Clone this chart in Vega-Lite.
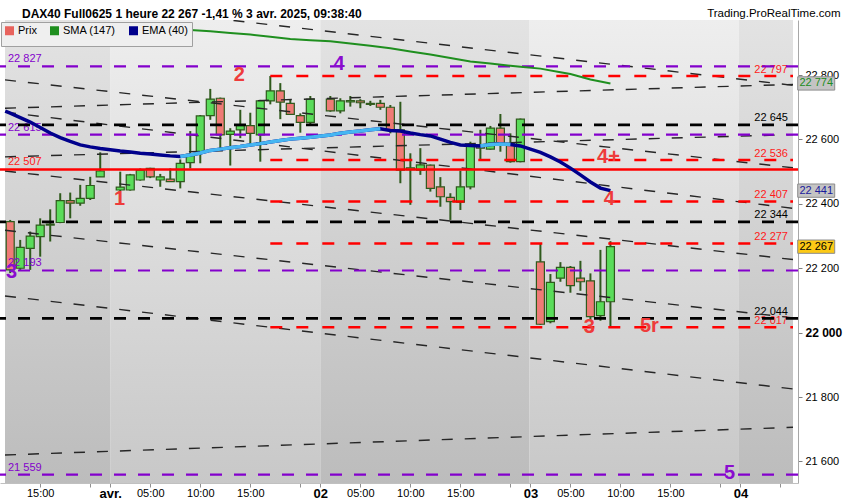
{
  "$schema": "https://vega.github.io/schema/vega-lite/v6.json",
  "width": 798,
  "height": 463,
  "autosize": {"type": "none"},
  "padding": {"left": 0, "top": 20, "right": 52, "bottom": 17},
  "background": "white",
  "title": {
    "text": "DAX40 Full0625 1 heure 22 267 -1,41 % 3 avr. 2025, 09:38:40",
    "anchor": "start", "frame": "group", "offset": -22.5, "dx": 22, "baseline": "alphabetic",
    "font": "Liberation Sans", "fontSize": 12, "fontWeight": "bold", "color": "black"
  },
  "config": {"view": {"stroke": null}, "font": "Liberation Sans"},
  "datasets": {
    "jours": [
      {"d0": -10.52, "d1": 0, "ton": "sombre"},
      {"d0": 0, "d1": 21, "ton": "clair"},
      {"d0": 21, "d1": 41.9, "ton": "sombre"},
      {"d0": 41.9, "d1": 62.85, "ton": "clair"},
      {"d0": 62.85, "d1": 68.25, "ton": "sombre"}
    ],
    "bougies": [
      {"i": -10, "o": 22345, "h": 22350, "l": 22185, "c": 22195},
      {"i": -9, "o": 22200, "h": 22288, "l": 22195, "c": 22265},
      {"i": -8, "o": 22262, "h": 22314, "l": 22195, "c": 22300},
      {"i": -7, "o": 22298, "h": 22355, "l": 22236, "c": 22334},
      {"i": -6, "o": 22334, "h": 22383, "l": 22283, "c": 22337},
      {"i": -5, "o": 22342, "h": 22433, "l": 22340, "c": 22410},
      {"i": -4, "o": 22410, "h": 22435, "l": 22355, "c": 22402},
      {"i": -3, "o": 22402, "h": 22459, "l": 22394, "c": 22417},
      {"i": -2, "o": 22417, "h": 22484, "l": 22412, "c": 22457},
      {"i": -1, "o": 22484, "h": 22560, "l": 22484, "c": 22502},
      {"i": 1, "o": 22443, "h": 22500, "l": 22397, "c": 22452},
      {"i": 2, "o": 22443, "h": 22493, "l": 22441, "c": 22490},
      {"i": 3, "o": 22474, "h": 22510, "l": 22472, "c": 22505},
      {"i": 4, "o": 22510, "h": 22512, "l": 22480, "c": 22484},
      {"i": 5, "o": 22474, "h": 22493, "l": 22453, "c": 22484},
      {"i": 6, "o": 22477, "h": 22510, "l": 22469, "c": 22469},
      {"i": 7, "o": 22469, "h": 22538, "l": 22448, "c": 22526},
      {"i": 8, "o": 22528, "h": 22626, "l": 22510, "c": 22554},
      {"i": 9, "o": 22562, "h": 22676, "l": 22526, "c": 22673},
      {"i": 10, "o": 22674, "h": 22757, "l": 22661, "c": 22725},
      {"i": 11, "o": 22728, "h": 22730, "l": 22568, "c": 22614},
      {"i": 12, "o": 22616, "h": 22635, "l": 22519, "c": 22626},
      {"i": 13, "o": 22630, "h": 22692, "l": 22604, "c": 22643},
      {"i": 14, "o": 22643, "h": 22683, "l": 22578, "c": 22619},
      {"i": 15, "o": 22614, "h": 22723, "l": 22531, "c": 22720},
      {"i": 16, "o": 22720, "h": 22797, "l": 22709, "c": 22751},
      {"i": 17, "o": 22751, "h": 22775, "l": 22663, "c": 22716},
      {"i": 18, "o": 22712, "h": 22723, "l": 22676, "c": 22678},
      {"i": 19, "o": 22674, "h": 22681, "l": 22621, "c": 22653},
      {"i": 20, "o": 22653, "h": 22735, "l": 22645, "c": 22725},
      {"i": 22, "o": 22725, "h": 22735, "l": 22686, "c": 22689},
      {"i": 23, "o": 22689, "h": 22728, "l": 22681, "c": 22720},
      {"i": 24, "o": 22717, "h": 22735, "l": 22702, "c": 22721},
      {"i": 25, "o": 22720, "h": 22725, "l": 22697, "c": 22714},
      {"i": 26, "o": 22712, "h": 22720, "l": 22704, "c": 22709},
      {"i": 27, "o": 22712, "h": 22723, "l": 22692, "c": 22700},
      {"i": 28, "o": 22700, "h": 22707, "l": 22619, "c": 22630},
      {"i": 29, "o": 22630, "h": 22717, "l": 22464, "c": 22505},
      {"i": 30, "o": 22506, "h": 22557, "l": 22397, "c": 22512},
      {"i": 31, "o": 22505, "h": 22573, "l": 22490, "c": 22521},
      {"i": 32, "o": 22520, "h": 22522, "l": 22438, "c": 22448},
      {"i": 33, "o": 22453, "h": 22483, "l": 22391, "c": 22422},
      {"i": 34, "o": 22420, "h": 22433, "l": 22350, "c": 22407},
      {"i": 35, "o": 22405, "h": 22503, "l": 22381, "c": 22453},
      {"i": 36, "o": 22453, "h": 22593, "l": 22445, "c": 22580},
      {"i": 37, "o": 22583, "h": 22630, "l": 22536, "c": 22573},
      {"i": 38, "o": 22570, "h": 22642, "l": 22568, "c": 22635},
      {"i": 39, "o": 22635, "h": 22679, "l": 22562, "c": 22588},
      {"i": 40, "o": 22588, "h": 22619, "l": 22528, "c": 22531},
      {"i": 41, "o": 22531, "h": 22665, "l": 22529, "c": 22663},
      {"i": 43, "o": 22220, "h": 22277, "l": 22024, "c": 22026},
      {"i": 44, "o": 22034, "h": 22182, "l": 22029, "c": 22156},
      {"i": 45, "o": 22169, "h": 22219, "l": 22158, "c": 22203},
      {"i": 46, "o": 22203, "h": 22207, "l": 22124, "c": 22146},
      {"i": 47, "o": 22169, "h": 22223, "l": 22130, "c": 22158},
      {"i": 48, "o": 22161, "h": 22184, "l": 22039, "c": 22050},
      {"i": 49, "o": 22053, "h": 22257, "l": 22037, "c": 22096},
      {"i": 50, "o": 22096, "h": 22284, "l": 22017, "c": 22267}
    ],
    "sma": [
      {"i": 7.5, "v": 22941}, {"i": 8, "v": 22940}, {"i": 10, "v": 22936}, {"i": 12, "v": 22931},
      {"i": 14, "v": 22926}, {"i": 16, "v": 22919}, {"i": 18, "v": 22912}, {"i": 20, "v": 22908},
      {"i": 22, "v": 22905}, {"i": 24, "v": 22898}, {"i": 26, "v": 22891}, {"i": 28, "v": 22883},
      {"i": 30, "v": 22873}, {"i": 32, "v": 22864}, {"i": 34, "v": 22853}, {"i": 36, "v": 22842},
      {"i": 38, "v": 22836}, {"i": 40, "v": 22829}, {"i": 41, "v": 22826}, {"i": 43, "v": 22820},
      {"i": 45, "v": 22809}, {"i": 46, "v": 22803}, {"i": 47, "v": 22795}, {"i": 48, "v": 22786},
      {"i": 49, "v": 22780}, {"i": 50, "v": 22774}
    ],
    "ema": [
      {"i": -10.5, "v": 22688, "hausse": 0}, {"i": -10, "v": 22682, "hausse": 0},
      {"i": -9, "v": 22668, "hausse": 0}, {"i": -8, "v": 22654, "hausse": 0},
      {"i": -7, "v": 22637, "hausse": 0}, {"i": -6, "v": 22620, "hausse": 0},
      {"i": -5, "v": 22606, "hausse": 0}, {"i": -4, "v": 22594, "hausse": 0},
      {"i": -3, "v": 22583, "hausse": 0}, {"i": -2, "v": 22577, "hausse": 0},
      {"i": -1, "v": 22572, "hausse": 0}, {"i": 1, "v": 22564, "hausse": 0},
      {"i": 2, "v": 22561, "hausse": 0}, {"i": 3, "v": 22557, "hausse": 0},
      {"i": 4, "v": 22555, "hausse": 0}, {"i": 5, "v": 22552, "hausse": 0},
      {"i": 6, "v": 22549, "hausse": 0}, {"i": 7, "v": 22547, "hausse": 1},
      {"i": 8, "v": 22552, "hausse": 1}, {"i": 9, "v": 22558, "hausse": 1},
      {"i": 10, "v": 22566, "hausse": 1}, {"i": 11, "v": 22570, "hausse": 1},
      {"i": 12, "v": 22574, "hausse": 1}, {"i": 13, "v": 22578, "hausse": 1},
      {"i": 14, "v": 22583, "hausse": 1}, {"i": 15, "v": 22587, "hausse": 1},
      {"i": 16, "v": 22592, "hausse": 1}, {"i": 17, "v": 22597, "hausse": 1},
      {"i": 18, "v": 22601, "hausse": 1}, {"i": 19, "v": 22604, "hausse": 1},
      {"i": 20, "v": 22607, "hausse": 1}, {"i": 22, "v": 22614, "hausse": 1},
      {"i": 23, "v": 22619, "hausse": 1}, {"i": 24, "v": 22623, "hausse": 1},
      {"i": 25, "v": 22626, "hausse": 1}, {"i": 26, "v": 22630, "hausse": 1},
      {"i": 27, "v": 22633, "hausse": 1}, {"i": 28, "v": 22628, "hausse": 0},
      {"i": 29, "v": 22626, "hausse": 0}, {"i": 30, "v": 22620, "hausse": 0},
      {"i": 31, "v": 22615, "hausse": 0}, {"i": 32, "v": 22611, "hausse": 0},
      {"i": 33, "v": 22601, "hausse": 0}, {"i": 34, "v": 22591, "hausse": 0},
      {"i": 35, "v": 22583, "hausse": 0}, {"i": 36, "v": 22581, "hausse": 0},
      {"i": 37, "v": 22580, "hausse": 2}, {"i": 38, "v": 22584, "hausse": 2},
      {"i": 39, "v": 22586, "hausse": 2}, {"i": 40, "v": 22584, "hausse": 2},
      {"i": 41, "v": 22580, "hausse": 0}, {"i": 43, "v": 22560, "hausse": 0},
      {"i": 44, "v": 22546, "hausse": 0}, {"i": 45, "v": 22530, "hausse": 0},
      {"i": 46, "v": 22511, "hausse": 0}, {"i": 47, "v": 22490, "hausse": 0},
      {"i": 48, "v": 22468, "hausse": 0}, {"i": 49, "v": 22449, "hausse": 0},
      {"i": 50, "v": 22441, "hausse": 0}
    ],
    "obliques": [
      {"id": "A", "i": -10.52, "p": 23052}, {"id": "A", "i": 68.25, "p": 22768},
      {"id": "B", "i": -10.52, "p": 22785}, {"id": "B", "i": 68.25, "p": 22512},
      {"id": "C", "i": -10.52, "p": 22697}, {"id": "C", "i": 68.25, "p": 22771},
      {"id": "K", "i": -10.52, "p": 22685}, {"id": "K", "i": 68.25, "p": 22386},
      {"id": "E", "i": -10.52, "p": 22546}, {"id": "E", "i": 68.25, "p": 22615},
      {"id": "F", "i": -10.52, "p": 22502}, {"id": "F", "i": 68.25, "p": 22227},
      {"id": "G", "i": -10.52, "p": 22318}, {"id": "G", "i": 68.25, "p": 22046},
      {"id": "H", "i": -10.52, "p": 22114}, {"id": "H", "i": 68.25, "p": 21825},
      {"id": "I", "i": -10.52, "p": 21620}, {"id": "I", "i": 68.25, "p": 21706}
    ],
    "niveaux": [
      {"p": 22827, "type": "violet", "etiq": "22 827", "cote": "g"},
      {"p": 22797, "type": "rouge", "debut": 16, "etiq": "22 797", "cote": "d"},
      {"p": 22645, "type": "noir", "etiq": "22 645", "cote": "d"},
      {"p": 22615, "type": "violet", "etiq": "22 615", "cote": "g"},
      {"p": 22536, "type": "rouge", "debut": 16, "etiq": "22 536", "cote": "d"},
      {"p": 22507, "type": "rouge plein", "etiq": "22 507", "cote": "g"},
      {"p": 22407, "type": "rouge", "debut": 16, "etiq": "22 407", "cote": "d"},
      {"p": 22344, "type": "noir", "etiq": "22 344", "cote": "d"},
      {"p": 22277, "type": "rouge", "debut": 16, "etiq": "22 277", "cote": "d"},
      {"p": 22193, "type": "violet", "etiq": "22 193", "cote": "g"},
      {"p": 22044, "type": "noir", "etiq": "22 044", "cote": "d"},
      {"p": 22017, "type": "rouge", "debut": 16, "etiq": "22 017", "cote": "d"},
      {"p": 21559, "type": "violet", "etiq": "21 559", "cote": "g"}
    ],
    "vagues": [
      {"t": "1", "i": 0.93, "p": 22415, "coul": "rouge"},
      {"t": "2", "i": 12.9, "p": 22799, "coul": "rouge"},
      {"t": "4", "i": 22.87, "p": 22833, "coul": "violet"},
      {"t": "4+", "i": 49.8, "p": 22544, "coul": "rouge"},
      {"t": "4", "i": 49.9, "p": 22415, "coul": "rouge"},
      {"t": "3", "i": 47.9, "p": 22019, "coul": "rouge"},
      {"t": "5r", "i": 53.9, "p": 22021, "coul": "rouge"},
      {"t": "3", "i": -9.86, "p": 22189, "coul": "violet"},
      {"t": "5", "i": 61.9, "p": 21565, "coul": "violet"}
    ],
    "etiquettes": [
      {"p": 22774, "etiq": "22 774", "serie": "SMA"},
      {"p": 22441, "etiq": "22 441", "serie": "EMA"},
      {"p": 22267, "etiq": "22 267", "serie": "Prix"}
    ]
  },
  "layer": [
    {
      "data": {"name": "jours"},
      "transform": [{"filter": "datum.ton == 'clair'"}],
      "mark": {"type": "rect", "fill": {"gradient": "linear", "x1": 0, "y1": 0, "x2": 0, "y2": 1, "stops": [{"offset": 0, "color": "#eeeeee"}, {"offset": 1, "color": "#c8c8c8"}]}},
      "encoding": {
        "x": {
          "field": "d0", "type": "quantitative",
          "scale": {"domain": [-10.52, 68.25], "nice": false, "zero": false},
          "axis": {
            "values": [-7, -2, 0, 4, 9, 14, 19, 21, 25, 30, 35, 40, 42, 46, 51, 56, 61, 63, 67],
            "labelExpr": "indexof([0,21,42,63], datum.value) >= 0 ? ['avr.','02','03','04'][indexof([0,21,42,63], datum.value)] : indexof([-2,19,40,61,67], datum.value) >= 0 ? '' : format((datum.value + 21) % 21 + 1, '02d') + ':00'",
            "title": null, "grid": false, "domainColor": "#c0c0c0", "tickColor": "#909090", "tickSize": 4,
            "labelPadding": 0, "labelColor": "black", "labelFont": "Liberation Sans",
            "labelFontSize": {"condition": {"test": "indexof([0,21,42,63], datum.value) >= 0", "value": 13}, "value": 11},
            "labelFontWeight": {"condition": {"test": "indexof([0,21,42,63], datum.value) >= 0", "value": "bold"}, "value": "normal"},
            "labelFlush": false, "labelOverlap": false
          }
        },
        "x2": {"field": "d1"}
      }
    },
    {
      "data": {"name": "jours"},
      "transform": [{"filter": "datum.ton == 'sombre'"}],
      "mark": {"type": "rect", "fill": {"gradient": "linear", "x1": 0, "y1": 0, "x2": 0, "y2": 1, "stops": [{"offset": 0, "color": "#e3e3e3"}, {"offset": 1, "color": "#bcbcbc"}]}},
      "encoding": {"x": {"field": "d0", "type": "quantitative"}, "x2": {"field": "d1"}}
    },
    {
      "data": {"name": "bougies"},
      "mark": {"type": "rule", "color": "#2f5a1c", "strokeWidth": 2},
      "encoding": {
        "x": {"field": "i", "type": "quantitative"},
        "y": {
          "field": "l", "type": "quantitative",
          "scale": {"domain": [21533, 22971], "nice": false, "zero": false},
          "axis": {
            "orient": "right",
            "values": [21600, 21700, 21800, 21900, 22000, 22100, 22200, 22300, 22400, 22500, 22600, 22700, 22800, 22900],
            "labelExpr": "replace(format(datum.value, ','), ',', ' ')",
            "title": "Trading.ProRealTime.com", "titleAngle": 0, "titleX": 42, "titleY": -4,
            "titleAlign": "right", "titleBaseline": "alphabetic", "titleFontWeight": "normal",
            "titleFontSize": 11.5, "titleColor": "black", "titleFont": "Liberation Sans",
            "grid": false, "domainColor": "#a8a8a8", "tickColor": "#808080", "tickSize": 4,
            "labelPadding": 3, "labelColor": "black", "labelFont": "Liberation Sans",
            "labelFontSize": {"condition": {"test": "datum.value == 22000 || datum.value == 22500", "value": 12}, "value": 11},
            "labelFontWeight": {"condition": {"test": "datum.value == 22000 || datum.value == 22500", "value": "bold"}, "value": "normal"}
          }
        },
        "y2": {"field": "h"}
      }
    },
    {
      "data": {"name": "bougies"},
      "mark": {"type": "bar", "orient": "vertical", "size": 8, "stroke": "#2f5a1c", "strokeWidth": 1.2},
      "encoding": {
        "x": {"field": "i", "type": "quantitative"},
        "y": {"field": "o", "type": "quantitative"},
        "y2": {"field": "c"},
        "fill": {"condition": {"test": "datum.c >= datum.o", "value": "#5adc5a"}, "value": "#ef7b76"}
      }
    },
    {
      "data": {"name": "niveaux"},
      "transform": [{"filter": "datum.cote == 'g'"}],
      "mark": {"type": "text", "align": "left", "baseline": "alphabetic", "dx": 3, "dy": -4, "fontSize": 11, "font": "Liberation Sans"},
      "encoding": {
        "x": {"datum": -10.52, "type": "quantitative"},
        "y": {"field": "p", "type": "quantitative"},
        "text": {"field": "etiq"},
        "color": {"condition": [{"test": "datum.type == 'violet'", "value": "#8300cc"}, {"test": "datum.type == 'noir'", "value": "black"}], "value": "#ff1a1a"}
      }
    },
    {
      "data": {"name": "niveaux"},
      "transform": [{"filter": "datum.cote == 'd'"}],
      "mark": {"type": "text", "align": "right", "baseline": "alphabetic", "dx": -5, "dy": -3.5, "fontSize": 11, "font": "Liberation Sans"},
      "encoding": {
        "x": {"datum": 68.25, "type": "quantitative"},
        "y": {"field": "p", "type": "quantitative"},
        "text": {"field": "etiq"},
        "color": {"condition": [{"test": "datum.type == 'violet'", "value": "#8300cc"}, {"test": "datum.type == 'noir'", "value": "black"}], "value": "#ff1a1a"}
      }
    },
    {
      "data": {"name": "obliques"},
      "mark": {"type": "line", "color": "#262626", "strokeWidth": 1.4, "strokeDash": [11, 12], "clip": true},
      "encoding": {
        "x": {"field": "i", "type": "quantitative"},
        "y": {"field": "p", "type": "quantitative"},
        "detail": {"field": "id"}
      }
    },
    {
      "data": {"name": "niveaux"},
      "transform": [{"filter": "datum.type == 'violet'"}],
      "mark": {"type": "rule", "color": "#8300cc", "strokeWidth": 2.2, "strokeDash": [12, 12]},
      "encoding": {"y": {"field": "p", "type": "quantitative"}}
    },
    {
      "data": {"name": "niveaux"},
      "transform": [{"filter": "datum.type == 'noir'"}],
      "mark": {"type": "rule", "color": "black", "strokeWidth": 2.8, "strokeDash": [12, 12]},
      "encoding": {"y": {"field": "p", "type": "quantitative"}}
    },
    {
      "data": {"name": "niveaux"},
      "transform": [{"filter": "datum.type == 'rouge plein'"}],
      "mark": {"type": "rule", "color": "#ff0000", "strokeWidth": 2.5},
      "encoding": {"y": {"field": "p", "type": "quantitative"}}
    },
    {
      "data": {"name": "niveaux"},
      "transform": [{"filter": "datum.type == 'rouge'"}],
      "mark": {"type": "rule", "color": "#ff0000", "strokeWidth": 2.5, "strokeDash": [12, 14]},
      "encoding": {
        "x": {"field": "debut", "type": "quantitative"},
        "x2": {"datum": 68.25},
        "y": {"field": "p", "type": "quantitative"}
      }
    },
    {
      "data": {"name": "sma"},
      "mark": {"type": "line", "strokeWidth": 2},
      "encoding": {
        "x": {"field": "i", "type": "quantitative"},
        "y": {"field": "v", "type": "quantitative"},
        "stroke": {
          "datum": "SMA (147)", "type": "nominal",
          "scale": {"domain": ["Prix", "SMA (147)", "EMA (40)"], "range": ["#e8635d", "#1f8f1f", "#00008c"]},
          "legend": {
            "title": null, "orient": "none", "legendX": 1, "legendY": 2, "direction": "horizontal",
            "fillColor": "#efefef", "strokeColor": "#a0a0a0", "padding": 3,
            "symbolType": "square", "symbolSize": 16, "symbolStrokeWidth": 5,
            "labelFontSize": 11, "labelColor": "black", "labelFont": "Liberation Sans",
            "columnPadding": 5, "labelOffset": 3
          }
        }
      }
    },
    {
      "data": {"name": "ema"},
      "mark": {"type": "line", "strokeWidth": 3.5},
      "encoding": {
        "x": {"field": "i", "type": "quantitative"},
        "y": {"field": "v", "type": "quantitative"},
        "stroke": {"datum": "EMA (40)", "type": "nominal"}
      }
    },
    {
      "data": {"name": "ema"},
      "transform": [{"filter": "datum.hausse > 0"}],
      "mark": {"type": "line", "strokeWidth": 3.5, "color": "#45b6f2"},
      "encoding": {
        "x": {"field": "i", "type": "quantitative"},
        "y": {"field": "v", "type": "quantitative"},
        "detail": {"field": "hausse"}
      }
    },
    {
      "data": {"name": "vagues"},
      "mark": {"type": "text", "align": "center", "baseline": "middle", "fontSize": 20, "fontWeight": "bold", "font": "Liberation Sans"},
      "encoding": {
        "x": {"field": "i", "type": "quantitative"},
        "y": {"field": "p", "type": "quantitative"},
        "text": {"field": "t"},
        "color": {"condition": {"test": "datum.coul == 'violet'", "value": "#8a0ccf"}, "value": "#ee3b3b"}
      }
    },
    {
      "data": {"name": "etiquettes"},
      "mark": {"type": "point", "shape": "M-1,-0.36L1,-0.36L1,0.36L-1,0.36Z", "size": 1369, "filled": true, "stroke": "#8c8c8c", "strokeWidth": 1, "opacity": 1},
      "encoding": {
        "x": {"datum": 70.57, "type": "quantitative"},
        "y": {"field": "p", "type": "quantitative"},
        "fill": {"condition": {"test": "datum.serie == 'Prix'", "value": "#fcc916"}, "value": "#c4c4c4"}
      }
    },
    {
      "data": {"name": "etiquettes"},
      "mark": {"type": "text", "align": "center", "baseline": "middle", "fontSize": 11, "font": "Liberation Sans"},
      "encoding": {
        "x": {"datum": 70.57, "type": "quantitative"},
        "y": {"field": "p", "type": "quantitative"},
        "text": {"field": "etiq"},
        "color": {"condition": [{"test": "datum.serie == 'SMA'", "value": "#218c21"}, {"test": "datum.serie == 'EMA'", "value": "#1a1a9c"}], "value": "black"}
      }
    }
  ]
}
